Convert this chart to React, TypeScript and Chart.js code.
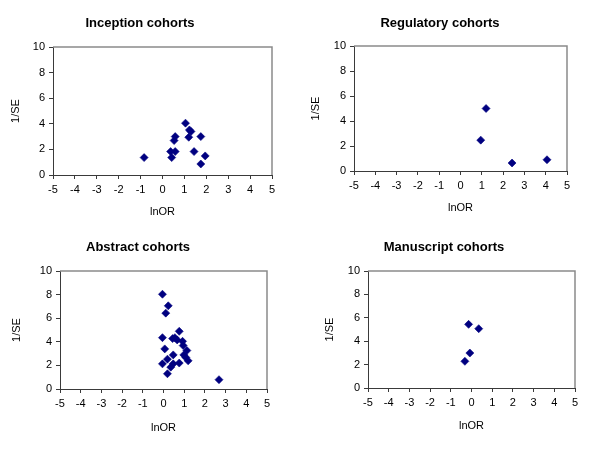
import React, { useEffect, useRef } from 'react';
import { Chart, registerables } from 'chart.js';

Chart.register(...registerables);

// ---- data ----
const panelTitles = ['Inception cohorts', 'Regulatory cohorts', 'Abstract cohorts', 'Manuscript cohorts'];
const xAxisTitle = 'lnOR';
const yAxisTitle = '1/SE';

const inceptionLnOR = [-0.84, 1.05, 1.23, 1.3, 1.2, 1.75, 0.58, 0.53, 0.37, 0.58, 0.42, 1.44, 1.95, 1.75];
const inceptionInvSE = [1.36, 4.05, 3.52, 3.4, 2.95, 3.0, 3.0, 2.69, 1.83, 1.83, 1.36, 1.83, 1.49, 0.86];

const regulatoryLnOR = [0.95, 1.2, 2.42, 4.06];
const regulatoryInvSE = [2.47, 5.0, 0.64, 0.9];

const abstractLnOR = [-0.05, 0.23, 0.11, 0.76, -0.05, 0.44, 0.55, 0.66, 0.92, 0.95, 0.06, 1.13, 0.47, 0.98, 1.08, 0.19, 1.19, -0.05, 0.76, 0.47, 0.35, 0.19, 2.68];
const abstractInvSE = [8.03, 7.05, 6.43, 4.89, 4.35, 4.27, 4.35, 4.16, 4.04, 3.68, 3.4, 3.26, 2.89, 2.89, 2.67, 2.53, 2.39, 2.13, 2.2, 2.13, 1.85, 1.29, 0.79];

const manuscriptLnOR = [-0.14, 0.35, -0.08, -0.32];
const manuscriptInvSE = [5.44, 5.07, 2.99, 2.28];

const xMin = -5;
const xMax = 5;
const xStep = 1;
const yMin = 0;
const yMax = 10;
const yStep = 2;

// ---- layout (per panel, local to a 300x225 cell) ----
type Geo = {
  cx: number; cy: number;
  padL: number; padR: number; padB: number;
  yW: number; yTitlePad: number;
  xH: number;
  tTop: number; tBottom: number;
};

const geos: Geo[] = [
  { cx: 0, cy: 0, padL: 8, padR: 28, padB: 6.7, yW: 45, yTitlePad: 1.4, xH: 43.3, tTop: 15.2, tBottom: 16.2 },
  { cx: 300, cy: 0, padL: 13, padR: 33, padB: 10.4, yW: 41, yTitlePad: -3.6, xH: 43.6, tTop: 15.2, tBottom: 15.2 },
  { cx: 0, cy: 225, padL: 9, padR: 33, padB: 15.4, yW: 51, yTitlePad: 1.4, xH: 45.6, tTop: 14.2, tBottom: 16.2 },
  { cx: 300, cy: 225, padL: 13, padR: 25, padB: 17.4, yW: 55, yTitlePad: 10.4, xH: 44.6, tTop: 14.2, tBottom: 16.2 },
];

const FONT = '"Liberation Sans", Arial, sans-serif';
const AXIS = '#3a3a3a';
const MARK = '#000080';

const boxPlugin = {
  id: 'boxBorder',
  beforeDatasetsDraw(chart: any) {
    const { ctx, chartArea } = chart;
    const { left, top, right, bottom } = chartArea;
    ctx.save();
    ctx.strokeStyle = '#8a8a8a';
    ctx.lineWidth = 1.5;
    ctx.beginPath();
    ctx.moveTo(left, top);
    ctx.lineTo(right, top);
    ctx.lineTo(right, bottom);
    ctx.stroke();
    ctx.restore();
  },
};

function Panel({ title, xs, ys, geo }: { title: string; xs: number[]; ys: number[]; geo: Geo }) {
  const ref = useRef<HTMLCanvasElement | null>(null);
  useEffect(() => {
    if (!ref.current) return;
    const data = xs.map((x, i) => ({ x, y: ys[i] }));
    const chart = new Chart(ref.current, {
      type: 'scatter',
      data: {
        datasets: [
          {
            data,
            pointStyle: 'rectRot',
            pointRadius: 4,
            pointBorderWidth: 0.6,
            backgroundColor: MARK,
            borderColor: MARK,
          },
        ],
      },
      options: {
        responsive: false,
        animation: false,
        layout: { padding: { left: geo.padL, right: geo.padR, top: 0, bottom: geo.padB } },
        plugins: {
          legend: { display: false },
          tooltip: { enabled: false },
          title: {
            display: true,
            text: title,
            color: '#000',
            font: { family: FONT, size: 13, weight: 'bold' },
            padding: { top: geo.tTop, bottom: geo.tBottom },
          },
        },
        scales: {
          x: {
            type: 'linear',
            min: xMin,
            max: xMax,
            afterFit: (s: any) => { s.height = geo.xH; },
            ticks: { stepSize: xStep, color: '#000', font: { family: FONT, size: 11 }, padding: 4 },
            grid: { drawOnChartArea: false, drawTicks: true, tickLength: 4, color: AXIS },
            border: { display: true, color: AXIS, width: 1 },
            title: {
              display: true,
              text: xAxisTitle,
              color: '#000',
              font: { family: FONT, size: 11 },
              padding: { top: 0, bottom: 0 },
            },
          },
          y: {
            type: 'linear',
            min: yMin,
            max: yMax,
            afterFit: (s: any) => { s.width = geo.yW; },
            ticks: { stepSize: yStep, color: '#000', font: { family: FONT, size: 11 }, padding: 4 },
            grid: { drawOnChartArea: false, drawTicks: true, tickLength: 4, color: AXIS },
            border: { display: true, color: AXIS, width: 1 },
            title: {
              display: true,
              text: yAxisTitle,
              color: '#000',
              font: { family: FONT, size: 11 },
              padding: { top: geo.yTitlePad, bottom: 0 },
            },
          },
        },
      },
      plugins: [boxPlugin],
    });
    return () => chart.destroy();
  }, [title, xs, ys, geo]);
  return (
    <canvas
      ref={ref}
      width={300}
      height={225}
      style={{ position: 'absolute', left: geo.cx, top: geo.cy, width: 300, height: 225, display: 'block' }}
    />
  );
}

export default function App() {
  const series = [
    [inceptionLnOR, inceptionInvSE],
    [regulatoryLnOR, regulatoryInvSE],
    [abstractLnOR, abstractInvSE],
    [manuscriptLnOR, manuscriptInvSE],
  ];
  return (
    <div style={{ position: 'absolute', left: 0, top: 0, width: 600, height: 450, background: '#fff' }}>
      {series.map(([xs, ys], i) => (
        <Panel key={i} title={panelTitles[i]} xs={xs} ys={ys} geo={geos[i]} />
      ))}
    </div>
  );
}
